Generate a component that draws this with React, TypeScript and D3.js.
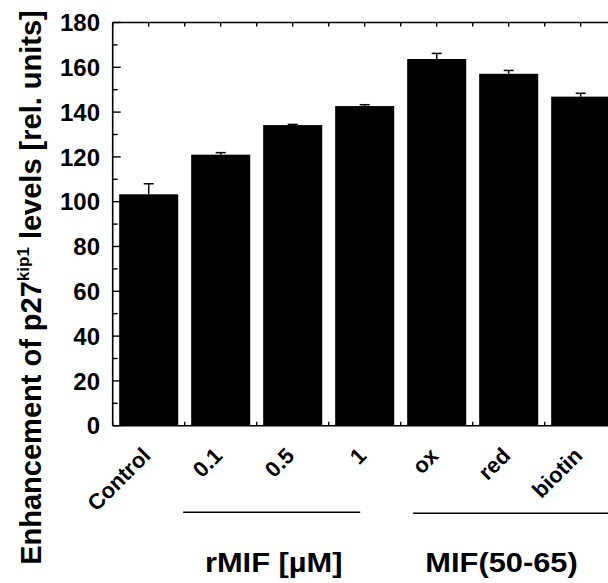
import React from "react";
import * as d3 from "d3";

const categories = ["Control", "0.1", "0.5", "1", "ox", "red", "biotin"];
const values = [103.3, 121.0, 134.2, 142.7, 163.7, 157.1, 146.9];
const errors = [4.7, 0.9, 0.3, 0.6, 2.5, 1.5, 1.5];
const yTicks = [0, 20, 40, 60, 80, 100, 120, 140, 160, 180];
const groupLabels = ["rMIF [µM]", "MIF(50-65)"];
const groupFrom = ["0.1", "ox"];
const groupTo = ["1", "biotin"];

const W = 608;
const H = 583;
const FONT = "'Liberation Sans', Arial, sans-serif";

export default function App() {
  const left = 112.7;
  const top = 22.5;
  const bottom = 425.7;
  const step = 72;
  const x = d3
    .scaleBand<string>()
    .domain(categories)
    .range([left, left + step * categories.length])
    .paddingInner(0.18)
    .paddingOuter(0.09);
  const y = d3.scaleLinear().domain([0, 180]).range([bottom, top]);
  const bw = x.bandwidth();
  const cx = (c: string) => (x(c) as number) + bw / 2;

  const minorTicks = d3.range(10, 180, 20);
  const halfTicks = d3.range(0, categories.length * 2 + 1).map((i) => left + (i * step) / 2);

  const lineX1 = [(x(groupFrom[0]) as number) - 8, (x(groupFrom[1]) as number) + 6];
  const lineX2 = [(x(groupTo[0]) as number) + bw - 34, (x(groupTo[1]) as number) + bw];
  const lineY = [512.3, 513.3];
  const labelX = [273.7, 501.5];

  return (
    <svg
      width={W}
      height={H}
      style={{ position: "absolute", left: 0, top: 0, display: "block", background: "#fff" }}
      fontFamily={FONT}
      fontWeight="bold"
    >
      {categories.map((c, i) => (
        <rect key={c} x={x(c)} y={y(values[i])} width={bw} height={y(0) - y(values[i])} fill="#000" />
      ))}
      {categories.map((c, i) => (
        <g key={"e" + c} stroke="#000" strokeWidth={1.5}>
          <line x1={cx(c)} x2={cx(c)} y1={y(values[i])} y2={y(values[i] + errors[i])} />
          <line x1={cx(c) - 5} x2={cx(c) + 5} y1={y(values[i] + errors[i])} y2={y(values[i] + errors[i])} />
        </g>
      ))}
      <g stroke="#000" strokeWidth={1.6} fill="none">
        <line x1={left} x2={left} y1={top} y2={bottom} />
        <line x1={left} x2={W + 10} y1={top} y2={top} />
        <line x1={left} x2={W + 10} y1={bottom} y2={bottom} />
      </g>
      <g stroke="#000" strokeWidth={1.4}>
        {yTicks.map((t) => (
          <line key={t} x1={left} x2={left + 8} y1={y(t)} y2={y(t)} />
        ))}
        {minorTicks.map((t) => (
          <line key={"m" + t} x1={left} x2={left + 5} y1={y(t)} y2={y(t)} />
        ))}
        {halfTicks.map((t, i) => (
          <g key={"h" + i}>
            <line x1={t} x2={t} y1={top} y2={top + 4} />
            <line x1={t} x2={t} y1={bottom} y2={bottom - 4} />
          </g>
        ))}
      </g>
      {yTicks.map((t) => (
        <text key={"l" + t} x={100} y={y(t)} dy="0.36em" textAnchor="end" fontSize={24}>
          {t}
        </text>
      ))}
      {categories.map((c) => (
        <text
          key={"c" + c}
          transform={`translate(${cx(c) + 3},${457}) rotate(-45)`}
          textAnchor="end"
          fontSize={22}
        >
          {c}
        </text>
      ))}
      {groupLabels.map((g, i) => (
        <g key={g}>
          <line x1={lineX1[i]} x2={lineX2[i]} y1={lineY[i]} y2={lineY[i]} stroke="#000" strokeWidth={1.5} />
          <text
            transform={`translate(${labelX[i]},571.5) scale(1.1,1)`}
            textAnchor="middle"
            fontSize={28}
          >
            {g}
          </text>
        </g>
      ))}
      <text transform={`translate(41,${287.5}) rotate(-90)`} textAnchor="middle" fontSize={29}>
        Enhancement of p27
        <tspan fontSize={17} dy={-12}>
          kip1
        </tspan>
        <tspan dy={12}> levels [rel. units]</tspan>
      </text>
    </svg>
  );
}
